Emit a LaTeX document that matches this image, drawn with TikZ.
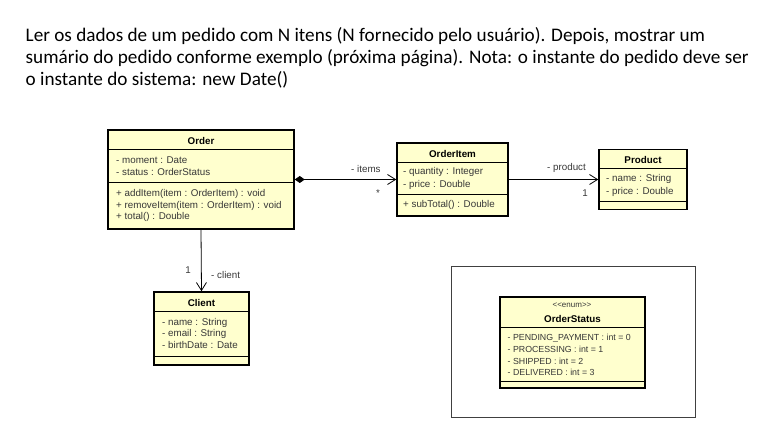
\documentclass[tikz,border=0pt]{standalone}
\usepackage{fontspec}
\setmainfont{Carlito}
\newfontfamily\umlfont{Liberation Sans}
\usepackage{tikz}
\usetikzlibrary{
    positioning,   % Relative positioning
    arrows.meta    % Modern arrow tips
}
\definecolor{ClassYellow}{RGB}{255, 255, 206}
\definecolor{UmlText}{RGB}{55, 55, 55}

\begin{document}
\begin{tikzpicture}[x=1pt, y=-1pt,
    classbox/.style={draw=black, line width=1.5pt, fill=ClassYellow, inner sep=0pt},
    divider/.style={line width=0.8pt},
    member/.style={anchor=base west, inner sep=0pt, text=UmlText, font=\umlfont\fontsize{9.8}{12}\selectfont},
    literal/.style={member, font=\umlfont\fontsize{8.8}{12}\selectfont},
    classname/.style={anchor=base, inner sep=0pt, font=\umlfont\bfseries\fontsize{9.8}{12}\selectfont},
    rolelabel/.style={anchor=base west, inner sep=0pt, text=UmlText, font=\umlfont\fontsize{9.8}{12}\selectfont},
    assoc/.style={line width=0.8pt, -{Straight Barb[length=8pt, width=10pt]}},
    title/.style={anchor=base west, inner sep=0pt, font=\fontsize{19.2}{22}\selectfont}]

    \useasboundingbox (0, 0) rectangle (780, 433);

    % Statement of the exercise
    \node[title] (title1) at (25.5, 42) {Ler os dados de um pedido com N itens (N fornecido pelo usuário). Depois, mostrar um};
    \node[title] (title2) at (25.5, 64) {sumário do pedido conforme exemplo (próxima página). Nota: o instante do pedido deve ser};
    \node[title] (title3) at (25.5, 86) {o instante do sistema: new Date()};

    % Order
    \node[classbox, minimum width=186pt, minimum height=99pt] (order) at (201, 179.5) {};
    \node[classname] (orderName) at (201, 145) {Order};
    \draw[divider] (108, 149.5) -- (294, 149.5);
    \node[member] (orderMoment) at (116, 163.5) {- moment : Date};
    \node[member] (orderStatusAttr) at (116, 176) {- status : OrderStatus};
    \draw[divider] (108, 182) -- (294, 182);
    \node[member] (orderAdd) at (116, 196.5) {+ addItem(item : OrderItem) : void};
    \node[member] (orderRemove) at (116, 208.5) {+ removeItem(item : OrderItem) : void};
    \node[member] (orderTotal) at (116, 220) {+ total() : Double};

    % OrderItem
    \node[classbox, minimum width=111pt, minimum height=73pt] (orderItem) at (452.5, 179.5) {};
    \node[classname] (orderItemName) at (452.5, 157.5) {OrderItem};
    \draw[divider] (397, 162) -- (508, 162);
    \node[member] (itemQuantity) at (403, 175) {- quantity : Integer};
    \node[member] (itemPrice) at (403, 188) {- price : Double};
    \draw[divider] (397, 194) -- (508, 194);
    \node[member] (itemSubTotal) at (403, 207.5) {+ subTotal() : Double};

    % Product
    \node[classbox, minimum width=88pt, minimum height=60pt] (product) at (643, 179.5) {};
    \node[classname] (productName) at (643, 163.3) {Product};
    \draw[divider] (599, 168) -- (687, 168);
    \node[member] (productNameAttr) at (606, 181.5) {- name : String};
    \node[member] (productPrice) at (606, 194.5) {- price : Double};
    \draw[divider] (599, 201) -- (687, 201);

    % Client
    \node[classbox, minimum width=95pt, minimum height=73pt] (client) at (201.5, 328.5) {};
    \node[classname] (clientName) at (201.5, 306) {Client};
    \draw[divider] (154, 311) -- (249, 311);
    \node[member] (clientNameAttr) at (162, 325) {- name : String};
    \node[member] (clientEmail) at (162, 336.7) {- email : String};
    \node[member] (clientBirth) at (162, 348.3) {- birthDate : Date};
    \draw[divider] (154, 356) -- (249, 356);

    % OrderStatus enum inside its frame
    \node[draw=black!75, line width=0.8pt, minimum width=244pt, minimum height=151pt, inner sep=0pt] (enumFrame) at (573, 341.5) {};
    \node[classbox, minimum width=145pt, minimum height=91pt] (orderStatus) at (572.5, 342.5) {};
    \node[anchor=base, inner sep=0pt, text=UmlText, font=\umlfont\fontsize{8}{10}\selectfont] (enumTag) at (572, 307.7) {<\kern0pt<enum>\kern0pt>};
    \node[classname] (orderStatusName) at (572.5, 322.7) {OrderStatus};
    \draw[divider] (500, 327) -- (645, 327);
    \node[literal] (statusPending) at (507.5, 340.7) {- PENDING\_PAYMENT : int = 0};
    \node[literal] (statusProcessing) at (507.5, 352.7) {- PROCESSING : int = 1};
    \node[literal] (statusShipped) at (507.5, 364) {- SHIPPED : int = 2};
    \node[literal] (statusDelivered) at (507.5, 375.7) {- DELIVERED : int = 3};
    \draw[divider] (500, 381) -- (645, 381);

    % Associations
    \draw[assoc, {Diamond[length=10pt, width=7pt, fill=black]}-{Straight Barb[length=8pt, width=10pt]}] (order.east) -- (orderItem.west);
    \draw[assoc] (orderItem.east) -- (product.west);
    \draw[assoc] (order.south) -- (client.north);

    % Role names and multiplicities
    \node[rolelabel] (itemsRole) at (351, 172.5) {- items};
    \node[rolelabel, anchor=center] (itemsMult) at (378, 193) {*};
    \node[rolelabel] (productRole) at (547, 171) {- product};
    \node[rolelabel, anchor=base] (productMult) at (585, 196.7) {1};
    \node[rolelabel, anchor=base] (clientMult) at (188, 273.3) {1};
    \node[rolelabel] (clientRole) at (211, 278.3) {- client};
\end{tikzpicture}
\end{document}
